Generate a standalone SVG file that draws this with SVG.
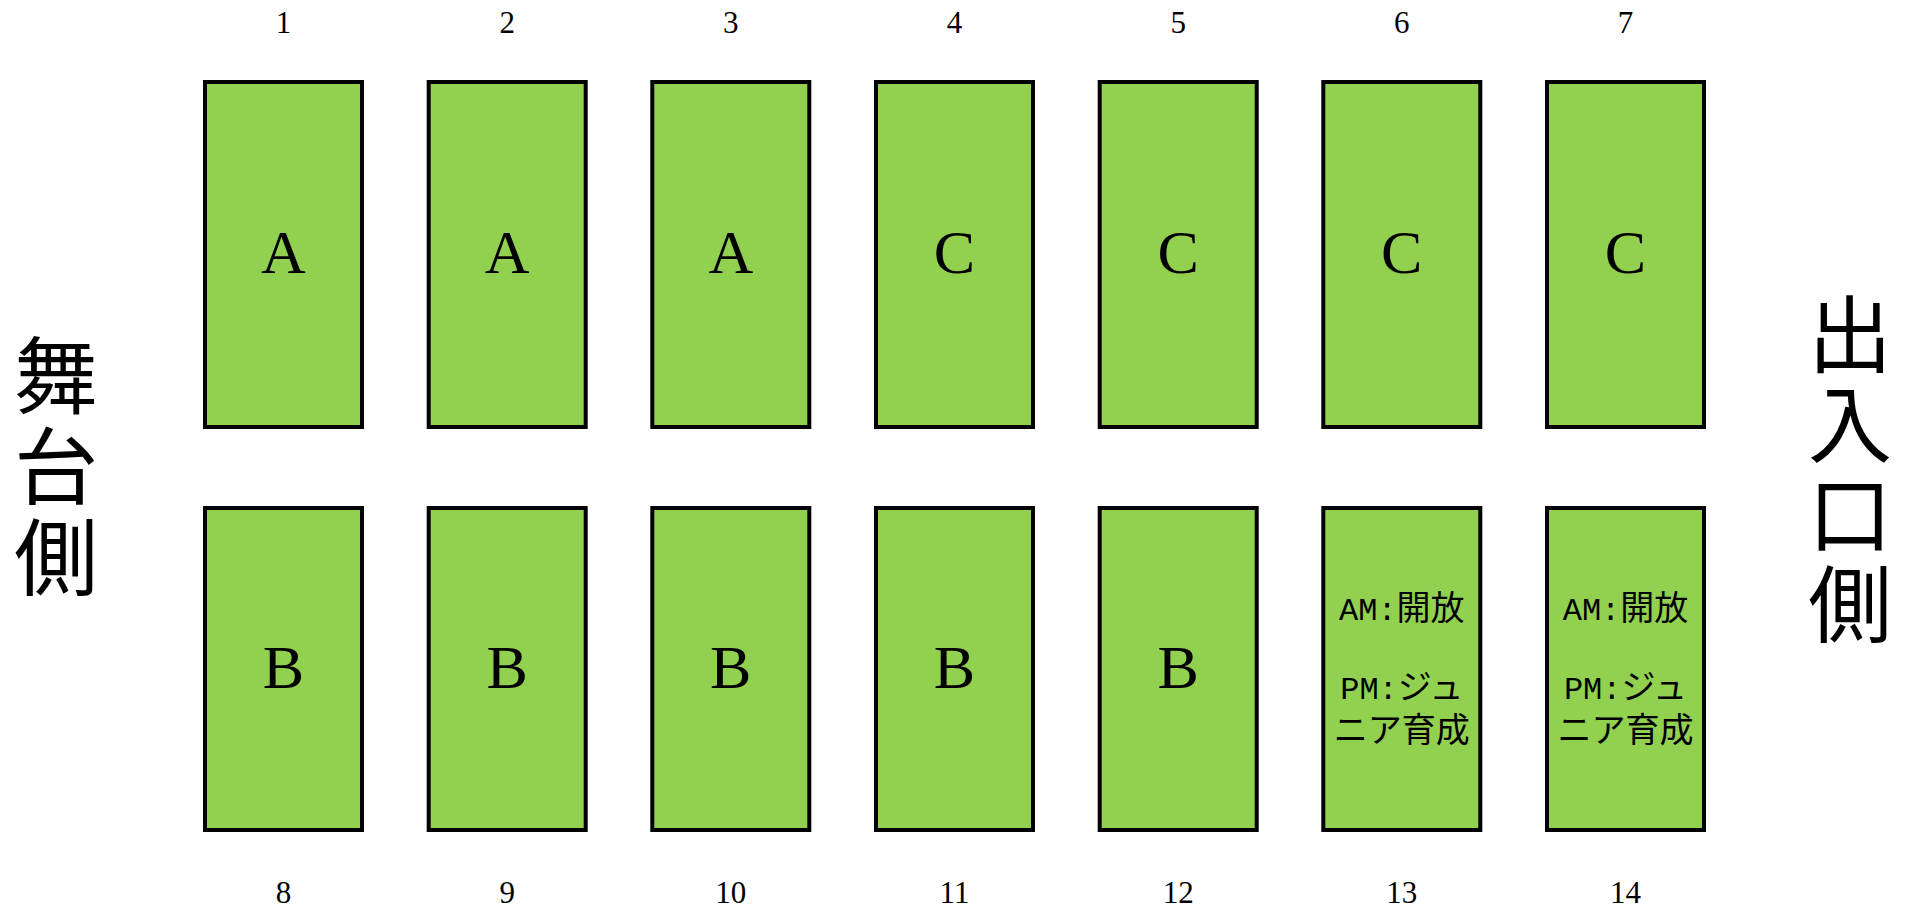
<svg xmlns="http://www.w3.org/2000/svg" width="1912" height="909" viewBox="0 0 1912 909">
<style>
.box{fill:#92D050;stroke:#000;stroke-width:4}
.num{font-family:"Liberation Serif",serif;font-size:31px;text-anchor:middle;fill:#000}
.lbl{font-family:"Liberation Serif",serif;font-size:62px;text-anchor:middle;fill:#000}
.side{font-family:"Noto Sans CJK JP",sans-serif;font-size:84px;fill:#000;writing-mode:vertical-rl;text-orientation:upright}
.note{font-family:"Noto Sans CJK JP",sans-serif;font-size:34px;text-anchor:middle;fill:#000}
.mono{font-family:"Liberation Mono",monospace;font-size:32px}
</style>
<rect width="1912" height="909" fill="#fff"/>
<g id="side-left">
<text class="side" x="56" y="333" writing-mode="tb" letter-spacing="7">舞台側</text>
</g>
<g id="side-right">
<text class="side" x="1850" y="292" writing-mode="tb" letter-spacing="6">出入口側</text>
</g>
<g id="connectors"></g>
<g id="n1"><rect class="box" x="205" y="82" width="157" height="345"/><text class="num" x="283.5" y="33">1</text><text class="lbl" x="283.5" y="273">A</text></g>
<g id="n2"><rect class="box" x="428.7" y="82" width="157" height="345"/><text class="num" x="507.2" y="33">2</text><text class="lbl" x="507.2" y="273">A</text></g>
<g id="n3"><rect class="box" x="652.3" y="82" width="157" height="345"/><text class="num" x="730.8" y="33">3</text><text class="lbl" x="730.8" y="273">A</text></g>
<g id="n4"><rect class="box" x="876" y="82" width="157" height="345"/><text class="num" x="954.5" y="33">4</text><text class="lbl" x="954.5" y="273">C</text></g>
<g id="n5"><rect class="box" x="1099.7" y="82" width="157" height="345"/><text class="num" x="1178.2" y="33">5</text><text class="lbl" x="1178.2" y="273">C</text></g>
<g id="n6"><rect class="box" x="1323.3" y="82" width="157" height="345"/><text class="num" x="1401.8" y="33">6</text><text class="lbl" x="1401.8" y="273">C</text></g>
<g id="n7"><rect class="box" x="1547" y="82" width="157" height="345"/><text class="num" x="1625.5" y="33">7</text><text class="lbl" x="1625.5" y="273">C</text></g>
<g id="n8"><rect class="box" x="205" y="508" width="157" height="322"/><text class="num" x="283.5" y="903">8</text><text class="lbl" x="283.5" y="688">B</text></g>
<g id="n9"><rect class="box" x="428.7" y="508" width="157" height="322"/><text class="num" x="507.2" y="903">9</text><text class="lbl" x="507.2" y="688">B</text></g>
<g id="n10"><rect class="box" x="652.3" y="508" width="157" height="322"/><text class="num" x="730.8" y="903">10</text><text class="lbl" x="730.8" y="688">B</text></g>
<g id="n11"><rect class="box" x="876" y="508" width="157" height="322"/><text class="num" x="954.5" y="903">11</text><text class="lbl" x="954.5" y="688">B</text></g>
<g id="n12"><rect class="box" x="1099.7" y="508" width="157" height="322"/><text class="num" x="1178.2" y="903">12</text><text class="lbl" x="1178.2" y="688">B</text></g>
<g id="n13"><rect class="box" x="1323.3" y="508" width="157" height="322"/><text class="num" x="1401.8" y="903">13</text>
<text class="note"><tspan x="1401.8" y="620"><tspan class="mono">AM:</tspan>開放</tspan><tspan x="1401.8" y="699"><tspan class="mono">PM:</tspan>ジュ</tspan><tspan x="1401.8" y="742">ニア育成</tspan></text></g>
<g id="n14"><rect class="box" x="1547" y="508" width="157" height="322"/><text class="num" x="1625.5" y="903">14</text>
<text class="note"><tspan x="1625.5" y="620"><tspan class="mono">AM:</tspan>開放</tspan><tspan x="1625.5" y="699"><tspan class="mono">PM:</tspan>ジュ</tspan><tspan x="1625.5" y="742">ニア育成</tspan></text></g>
</svg>
